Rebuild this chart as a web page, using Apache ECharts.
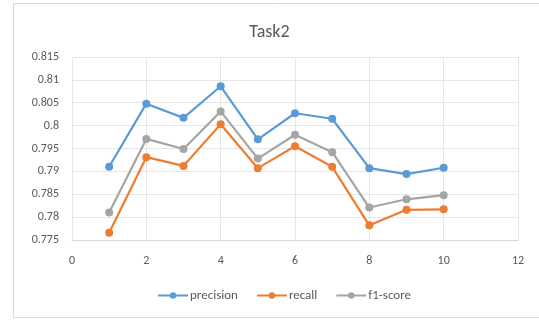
<!DOCTYPE html>
<html>
<head>
<meta charset="utf-8">
<script src="https://cdn.jsdelivr.net/npm/echarts@6/dist/echarts.min.js"></script>
<style>
  html, body { margin: 0; padding: 0; background: #fff; }
  #chart { width: 539px; height: 321px; }
</style>
</head>
<body>
<div id="chart"></div>
<script>
// Run index on the x axis
const runs = [1, 2, 3, 4, 5, 6, 7, 8, 9, 10];
// Scores per run
const precision = [0.7910, 0.8048, 0.8017, 0.8086, 0.7970, 0.8027, 0.8015, 0.7907, 0.7894, 0.7908];
const recall    = [0.7766, 0.7931, 0.7912, 0.8003, 0.7907, 0.7955, 0.7910, 0.7782, 0.7816, 0.7817];
const f1score   = [0.7810, 0.7971, 0.7949, 0.8031, 0.7928, 0.7980, 0.7942, 0.7821, 0.7839, 0.7848];

const seriesNames = ['precision', 'recall', 'f1-score'];
const seriesColors = ['#5b9bd5', '#ed7d31', '#a5a5a5'];
const seriesValues = [precision, recall, f1score];

const chart = echarts.init(document.getElementById('chart'), null, { renderer: 'canvas' });

const font = 'Calibri, Carlito, "Liberation Sans", "Open Sans", sans-serif';

chart.setOption({
  animation: false,
  backgroundColor: '#ffffff',
  graphic: [{
    type: 'rect',
    shape: { x: 13.5, y: 3.5, width: 540, height: 314 },
    style: { fill: 'none', stroke: '#d9d9d9', lineWidth: 1 },
    silent: true,
    z: -1
  }],
  title: {
    text: 'Task2',
    left: 'center',
    top: 18,
    textStyle: { fontFamily: font, fontSize: 18, fontWeight: 'normal', color: '#595959' }
  },
  legend: {
    bottom: 14,
    left: 152,
    itemWidth: 30,
    itemHeight: 8,
    itemGap: 18,
    textStyle: { fontFamily: font, fontSize: 13, color: '#595959', padding: [0, 0, 0, -3] },
    data: seriesNames
  },
  grid: { left: 72, right: 21, top: 57, bottom: 81, containLabel: false },
  xAxis: {
    type: 'value',
    min: 0, max: 12, interval: 2,
    axisLine: { show: true, lineStyle: { color: '#d9d9d9' } },
    axisTick: { show: false },
    axisLabel: { fontFamily: font, fontSize: 12, color: '#595959', margin: 15 },
    splitLine: { show: true, lineStyle: { color: '#e6e6e6' } }
  },
  yAxis: {
    type: 'value',
    min: 0.775, max: 0.815, interval: 0.005,
    axisLine: { show: false },
    axisTick: { show: false },
    axisLabel: {
      fontFamily: font, fontSize: 12, color: '#595959', margin: 13,
      formatter: v => String(parseFloat(v.toFixed(3)))
    },
    splitLine: { show: true, lineStyle: { color: '#e6e6e6' } }
  },
  series: seriesNames.map((name, i) => ({
    name,
    type: 'line',
    data: runs.map((r, j) => [r, seriesValues[i][j]]),
    symbol: 'circle',
    symbolSize: 8,
    lineStyle: { width: 2.2, color: seriesColors[i] },
    itemStyle: { color: seriesColors[i] }
  }))
});
</script>
</body>
</html>
